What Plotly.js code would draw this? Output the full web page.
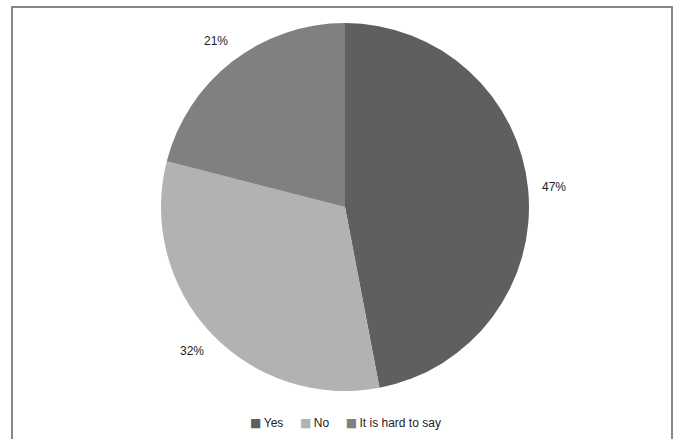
<!DOCTYPE html>
<html><head><meta charset="utf-8">
<script src="https://cdn.plot.ly/plotly-3.0.1.min.js"></script>
<style>html,body{margin:0;padding:0;background:#fff}#chart{width:677px;height:439px}</style>
</head><body><div id="chart"></div>
<script>
const categories = ["Yes", "No", "It is hard to say"];
const shares = [47, 32, 21];
const sliceColors = ["#5f5f5f", "#b2b2b2", "#808080"];

const FONT = "Liberation Sans, Arial, sans-serif";
const W = 677, H = 439;
const pieX = [161/W, 529/W], pieY = [48/H, 416/H];

const trace = {
  type: "pie",
  labels: categories,
  values: shares,
  sort: false,
  direction: "clockwise",
  rotation: 0,
  marker: {colors: sliceColors, line: {color: "#ffffff", width: 0}},
  textinfo: "none",
  domain: {x: pieX, y: pieY},
  hoverinfo: "label+percent"
};

// percentage labels placed outside each slice along its mid-angle
const total = shares.reduce((a, b) => a + b, 0);
const cx = (pieX[0] + pieX[1]) / 2 * W, cy = (1 - (pieY[0] + pieY[1]) / 2) * H;
const R = (pieX[1] - pieX[0]) * W / 2;
const labelR = R * 1.14;
let cum = 0;
const annotations = shares.map((v) => {
  const mid = (cum + v / 2) / total * 2 * Math.PI;
  cum += v;
  const px = cx + labelR * Math.sin(mid), py = cy - labelR * Math.cos(mid);
  return {
    xref: "paper", yref: "paper", x: px / W, y: 1 - py / H,
    xanchor: "center", yanchor: "middle", showarrow: false,
    text: Math.round(v / total * 100) + "%",
    font: {family: FONT, size: 12, color: "#222"}
  };
});

// legend drawn as a single line of text with coloured squares
const NB = "\u00a0";
const legendText = categories.map((c, i) =>
  `<span style="color:${sliceColors[i]};font-family:'DejaVu Sans';font-size:12px">\u25A0</span>\u2009${c}`
).join(NB.repeat(5));
annotations.push({
  xref: "paper", yref: "paper", x: cx / W, y: 1 - 423 / H,
  xanchor: "center", yanchor: "middle", showarrow: false,
  text: legendText,
  font: {family: FONT, size: 12, color: "#222"}
});

const layout = {
  width: W, height: H,
  margin: {l: 0, r: 0, t: 0, b: 0},
  paper_bgcolor: "#ffffff",
  showlegend: false,
  annotations: annotations,
  shapes: [{
    type: "rect", xref: "paper", yref: "paper",
    x0: 12/W, x1: 672/W, y0: -0.01, y1: (H-7)/H,
    line: {color: "#878787", width: 2}
  }]
};

Plotly.newPlot("chart", [trace], layout, {displayModeBar: false, staticPlot: true});
</script></body></html>
